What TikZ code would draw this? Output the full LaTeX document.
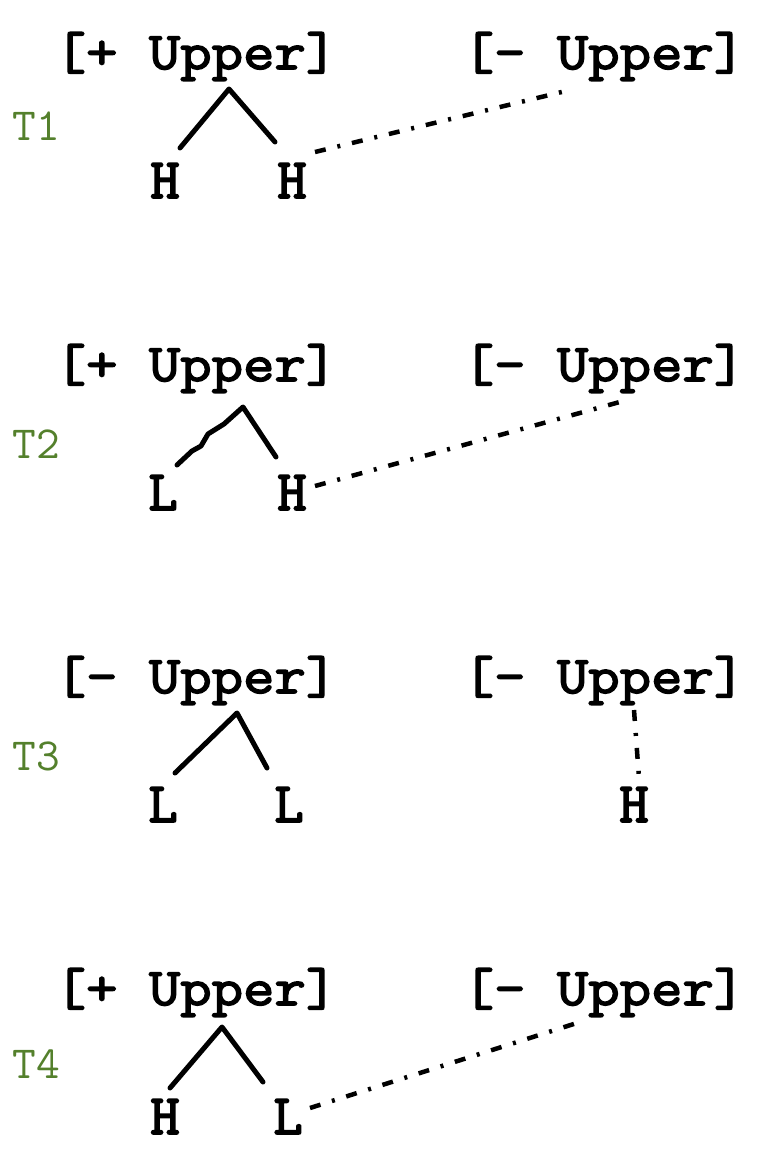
\documentclass[tikz,border=0pt]{standalone}
\usepackage{fontspec}
\newfontfamily\featfont[FakeStretch=1.15,FakeBold=3]{Latin Modern Mono}
\newfontfamily\tonefont[FakeBold=3]{Latin Modern Mono}
\newfontfamily\labfont{Latin Modern Mono}
\definecolor{tgreen}{RGB}{84,128,44}
\begin{document}
\begin{tikzpicture}[x=1pt,y=-1pt,
  feat/.style={font=\fontsize{53}{53}\selectfont\featfont, inner sep=0pt, anchor=base},
  tone/.style={font=\fontsize{57}{57}\selectfont\tonefont, inner sep=0pt, anchor=base},
  tlab/.style={font=\fontsize{46}{46}\selectfont\labfont, text=tgreen, inner sep=0pt, anchor=base},
  assoc/.style={line width=5pt, line cap=round, line join=round},
  link/.style={line width=4.5pt, dash pattern=on 11pt off 12pt on 3pt off 12pt}]
\useasboundingbox (0,0) rectangle (780,1172);
% Row 1
\node[tlab] (t1) at (36,140) {T1};
\node[feat] (u1a) at (196,69) {[+ Upper]};
\node[feat] (u1b) at (604,69) {[- Upper]};
\node[tone] (x1a) at (165,198) {H};
\node[tone] (x1b) at (292,198) {H};
\coordinate (a1) at (229,89);
\coordinate (l1) at (180,148);
\coordinate (r1) at (275,142);
\coordinate (s1) at (315,152);
\coordinate (e1) at (570,90);
\draw[assoc] (l1) -- (a1) -- (r1);
\draw[link] (s1) -- (e1);
% Row 2
\node[tlab] (t2) at (36,458) {T2};
\node[feat] (u2a) at (196,381) {[+ Upper]};
\node[feat] (u2b) at (604,381) {[- Upper]};
\node[tone] (x2a) at (163,510) {L};
\node[tone] (x2b) at (292,510) {H};
\coordinate (a2) at (243,407);
\coordinate (l2) at (177,465);
\coordinate (r2) at (276,457);
\coordinate (s2) at (315,486);
\coordinate (e2) at (627,400);
\draw[assoc] (l2) -- (192,451) -- (201,446) -- (208,434) -- (224,424) -- (a2) -- (r2);
\draw[link] (s2) -- (e2);
% Row 3
\node[tlab] (t3) at (36,770) {T3};
\node[feat] (u3a) at (196,693) {[- Upper]};
\node[feat] (u3b) at (604,693) {[- Upper]};
\node[tone] (x3a) at (163,822) {L};
\node[tone] (x3b) at (289,822) {L};
\node[tone] (x3c) at (634,822) {H};
\coordinate (a3) at (237,713);
\coordinate (l3) at (175,773);
\coordinate (r3) at (267,768);
\coordinate (s3) at (634,710);
\coordinate (e3) at (639,778);
\draw[assoc] (l3) -- (a3) -- (r3);
\draw[link] (s3) -- (e3);
% Row 4
\node[tlab] (t4) at (36,1078) {T4};
\node[feat] (u4a) at (196,1005) {[+ Upper]};
\node[feat] (u4b) at (604,1005) {[- Upper]};
\node[tone] (x4a) at (165,1134) {H};
\node[tone] (x4b) at (288,1134) {L};
\coordinate (a4) at (222,1027);
\coordinate (l4) at (170,1088);
\coordinate (r4) at (263,1082);
\coordinate (s4) at (310,1108);
\coordinate (e4) at (580,1022);
\draw[assoc] (l4) -- (a4) -- (r4);
\draw[link] (s4) -- (e4);
\end{tikzpicture}
\end{document}
